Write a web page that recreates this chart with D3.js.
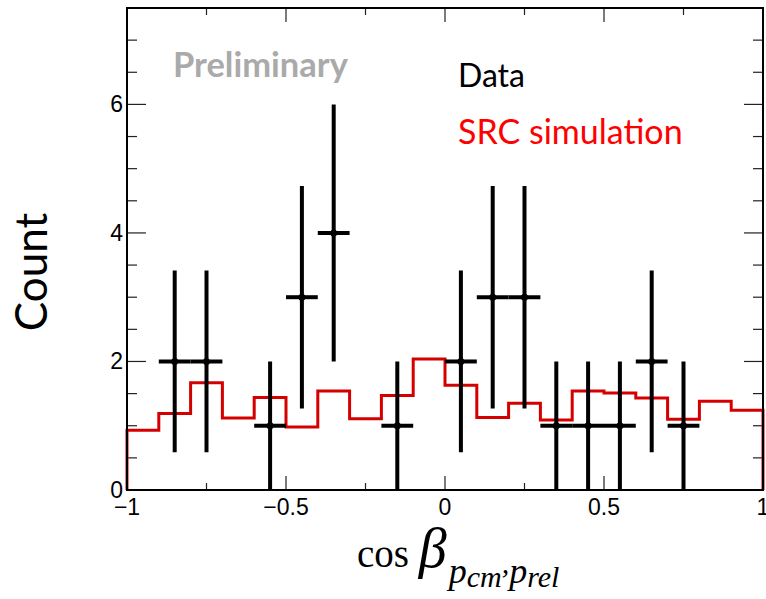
<!DOCTYPE html>
<html>
<head>
<meta charset="utf-8">
<script src="https://cdn.jsdelivr.net/npm/d3@7"></script>
<style>
  html, body { margin: 0; padding: 0; background: #fff; }
  svg { display: block; }
</style>
</head>
<body>
<svg id="chart" width="766" height="599"></svg>
<script>
// Measured counts per bin (bin centres), with their statistical uncertainties
const dataX = [-0.85, -0.75, -0.55, -0.45, -0.35, -0.15, 0.05, 0.15, 0.25, 0.35, 0.45, 0.55, 0.65, 0.75];
const dataCount = [2, 2, 1, 3, 4, 1, 2, 3, 3, 1, 1, 1, 2, 1];
const dataErr = [1.414, 1.414, 1, 1.732, 2, 1, 1.414, 1.732, 1.732, 1, 1, 1, 1.414, 1];
const binHalfWidth = 0.05;

// Simulated distribution, 20 bins of width 0.1 from -1 to 1
const simEdges = [-1, -0.9, -0.8, -0.7, -0.6, -0.5, -0.4, -0.3, -0.2, -0.1, 0,
                  0.1, 0.2, 0.3, 0.4, 0.5, 0.6, 0.7, 0.8, 0.9, 1];
const simValues = [0.93, 1.19, 1.67, 1.12, 1.44, 0.98, 1.54, 1.11, 1.47, 2.04,
                   1.63, 1.13, 1.35, 1.09, 1.54, 1.51, 1.43, 1.10, 1.38, 1.24];

// Axis ticks
const xMajorTicks = [-1, -0.5, 0, 0.5, 1];
const xMinorTicks = [-0.75, -0.25, 0.25, 0.75];
const xTickLabels = ["\u22121", "\u22120.5", "0", "0.5", "1"];
const yMajorTicks = [0, 2, 4, 6];
const yMinorTicks = [0.5, 1, 1.5, 2.5, 3, 3.5, 4.5, 5, 5.5, 6.5, 7, 7.5];
const yTickLabels = ["0", "2", "4", "6"];

(function () {
  const svg = d3.select("#chart");
  const pLeft = 127, pRight = 763, pTop = 8, pBottom = 490;

  const x = d3.scaleLinear().domain([-1, 1]).range([pLeft, pRight]);
  const y = d3.scaleLinear().domain([0, 7.5]).range([pBottom, pTop]);

  const tickColor = "#222";

  // ----- tick marks on all four sides -----
  function drawXTicks(vals, len) {
    const g = svg.append("g");
    g.selectAll("line.b").data(vals).join("line").attr("class", "b")
      .attr("x1", d => x(d)).attr("x2", d => x(d))
      .attr("y1", pBottom).attr("y2", pBottom - len)
      .attr("stroke", tickColor).attr("stroke-width", 1.2);
    g.selectAll("line.t").data(vals).join("line").attr("class", "t")
      .attr("x1", d => x(d)).attr("x2", d => x(d))
      .attr("y1", pTop).attr("y2", pTop + len)
      .attr("stroke", tickColor).attr("stroke-width", 1.2);
  }
  function drawYTicks(vals, len) {
    const g = svg.append("g");
    g.selectAll("line.l").data(vals).join("line").attr("class", "l")
      .attr("x1", pLeft).attr("x2", pLeft + len)
      .attr("y1", d => y(d)).attr("y2", d => y(d))
      .attr("stroke", tickColor).attr("stroke-width", 1.2);
    g.selectAll("line.r").data(vals).join("line").attr("class", "r")
      .attr("x1", pRight).attr("x2", pRight - len)
      .attr("y1", d => y(d)).attr("y2", d => y(d))
      .attr("stroke", tickColor).attr("stroke-width", 1.2);
  }
  drawXTicks(xMajorTicks, 14);
  drawXTicks(xMinorTicks, 7);
  drawYTicks(yMajorTicks, 19);
  drawYTicks(yMinorTicks, 10);

  // ----- tick labels -----
  svg.append("g").selectAll("text").data(xMajorTicks).join("text")
    .attr("x", d => x(d)).attr("y", pBottom + 25)
    .attr("text-anchor", "middle")
    .attr("font-family", "Liberation Sans, Arial, sans-serif")
    .attr("font-size", 23)
    .text((d, i) => xTickLabels[i]);

  svg.append("g").selectAll("text").data(yMajorTicks).join("text")
    .attr("x", pLeft - 4).attr("y", d => y(d) + 8)
    .attr("text-anchor", "end")
    .attr("font-family", "Liberation Sans, Arial, sans-serif")
    .attr("font-size", 23)
    .text((d, i) => yTickLabels[i]);

  // ----- simulation histogram (step outline) -----
  const stepPts = [[simEdges[0], 0]];
  simValues.forEach((v, i) => {
    stepPts.push([simEdges[i], v]);
    stepPts.push([simEdges[i + 1], v]);
  });
  stepPts.push([simEdges[simEdges.length - 1], 0]);

  svg.append("path")
    .attr("d", d3.line().x(d => x(d[0])).y(d => y(d[1]))(stepPts))
    .attr("fill", "none")
    .attr("stroke", "#d40000")
    .attr("stroke-width", 3);

  // ----- data points with error bars -----
  const pts = dataX.map((v, i) => ({ x: v, c: dataCount[i], e: dataErr[i] }));
  const gd = svg.append("g");
  gd.selectAll("line.v").data(pts).join("line").attr("class", "v")
    .attr("x1", d => x(d.x)).attr("x2", d => x(d.x))
    .attr("y1", d => y(Math.max(0, d.c - d.e))).attr("y2", d => y(d.c + d.e))
    .attr("stroke", "#000").attr("stroke-width", 4);
  gd.selectAll("line.h").data(pts).join("line").attr("class", "h")
    .attr("x1", d => x(d.x - binHalfWidth)).attr("x2", d => x(d.x + binHalfWidth))
    .attr("y1", d => y(d.c)).attr("y2", d => y(d.c))
    .attr("stroke", "#000").attr("stroke-width", 4);
  gd.selectAll("circle").data(pts).join("circle")
    .attr("cx", d => x(d.x)).attr("cy", d => y(d.c))
    .attr("r", 3.5).attr("fill", "#000");

  // ----- frame -----
  svg.append("rect")
    .attr("x", pLeft).attr("y", pTop)
    .attr("width", pRight - pLeft).attr("height", pBottom - pTop)
    .attr("fill", "none").attr("stroke", "#000").attr("stroke-width", 2);

  // ----- annotations -----
  svg.append("text")
    .attr("x", 173).attr("y", 77)
    .attr("font-family", "Lato, sans-serif").attr("font-weight", "bold")
    .attr("font-size", 34.5).attr("fill", "#aaaaaa")
    .text("Preliminary");

  svg.append("text")
    .attr("x", 458).attr("y", 87)
    .attr("font-family", "Lato, sans-serif")
    .attr("font-size", 32).attr("fill", "#000")
    .text("Data");

  svg.append("text")
    .attr("x", 458).attr("y", 144)
    .attr("font-family", "Lato, sans-serif")
    .attr("font-size", 34).attr("fill", "#ff0000")
    .text("SRC simulation");

  // ----- axis titles -----
  svg.append("text")
    .attr("transform", "translate(47,272) rotate(-90)")
    .attr("text-anchor", "middle")
    .attr("font-family", "Lato, sans-serif")
    .attr("font-size", 44)
    .text("Count");

  const xt = svg.append("text")
    .attr("x", 357).attr("y", 567)
    .attr("font-family", "Liberation Serif, Times New Roman, serif")
    .attr("font-size", 39);
  xt.append("tspan").text("cos ");
  xt.append("tspan").attr("font-style", "italic").attr("font-size", 56).text("\u03B2");
  xt.append("tspan").attr("font-style", "italic").attr("font-size", 36).attr("dx", 2).attr("dy", 16).text("p");
  xt.append("tspan").attr("font-style", "italic").attr("font-size", 30).attr("dy", 4).text("cm");
  xt.append("tspan").attr("font-style", "italic").attr("font-size", 30).attr("dy", -14).text(",");
  xt.append("tspan").attr("font-style", "italic").attr("font-size", 36).attr("dy", 10).text("p");
  xt.append("tspan").attr("font-style", "italic").attr("font-size", 30).attr("dy", 4).text("rel");
})();
</script>
</body>
</html>
